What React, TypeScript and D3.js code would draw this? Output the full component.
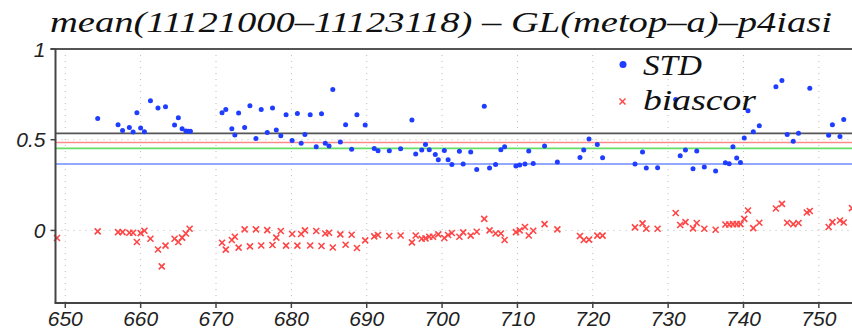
import React from "react";
import * as d3 from "d3";

const stdX = [654.3, 657.0, 657.6, 658.5, 659.0, 659.5, 660.0, 660.5, 661.3, 662.3, 663.3, 664.5, 665.0, 665.5, 666.0, 666.3, 666.6,
  670.8, 671.3, 672.1, 672.5, 673.0, 673.8, 674.5, 675.3, 676.0, 676.8, 677.5, 678.0, 678.6, 679.3, 680.1, 680.8, 681.3, 681.8, 682.5, 683.3, 684.0, 684.5, 685.0, 685.5, 686.5, 687.2, 688.0, 688.7, 689.8, 691.0, 691.5, 693.0, 694.5, 696.0, 696.5,
  697.3, 697.8, 698.3, 699.1, 699.5, 700.3, 700.8, 701.3, 702.3, 702.8, 703.8, 704.6, 705.6, 706.3, 707.1, 707.8, 708.3, 709.8, 710.3, 711.0, 711.5, 712.1, 713.6, 715.3, 718.3, 718.8, 719.5, 720.6, 721.3,
  725.6, 726.6, 727.1, 728.6, 731.0, 731.6, 732.3, 733.3, 733.8, 734.8, 736.3, 737.6, 738.1, 738.6, 739.1, 739.6, 740.1, 740.6, 741.3, 742.1, 744.3, 745.1, 745.8, 746.6, 747.3, 748.8, 751.3, 751.8, 752.8, 753.3];
const stdY = [0.617, 0.583, 0.551, 0.568, 0.542, 0.649, 0.564, 0.544, 0.715, 0.675, 0.682, 0.581, 0.621, 0.561, 0.548, 0.546, 0.546,
  0.649, 0.667, 0.561, 0.526, 0.647, 0.568, 0.687, 0.507, 0.667, 0.540, 0.675, 0.553, 0.522, 0.638, 0.496, 0.645, 0.480, 0.529, 0.638, 0.461, 0.643, 0.480, 0.465, 0.777, 0.487, 0.583, 0.447, 0.638, 0.581, 0.452, 0.439, 0.439, 0.450, 0.609, 0.421,
  0.443, 0.474, 0.445, 0.419, 0.390, 0.441, 0.390, 0.364, 0.436, 0.366, 0.432, 0.336, 0.684, 0.344, 0.364, 0.445, 0.461, 0.355, 0.360, 0.366, 0.438, 0.369, 0.465, 0.377, 0.402, 0.443, 0.504, 0.474, 0.401,
  0.366, 0.432, 0.344, 0.346, 0.722, 0.412, 0.443, 0.340, 0.438, 0.349, 0.327, 0.373, 0.368, 0.461, 0.399, 0.375, 0.509, 0.660, 0.544, 0.577, 0.792, 0.827, 0.529, 0.491, 0.535, 0.783, 0.524, 0.583, 0.518, 0.612];

const biasX = [648.9, 654.3, 657.0, 657.6, 658.5, 659.0, 659.5, 660.0, 660.5, 661.3, 662.3, 662.8, 663.3, 664.5, 665.0, 665.5, 666.0, 666.5,
  670.8, 671.3, 672.1, 672.5, 673.0, 673.8, 674.5, 675.3, 676.0, 676.8, 677.5, 678.0, 678.6, 679.3, 680.1, 680.8, 681.3, 681.8, 682.5, 683.3, 684.0, 684.5, 685.0, 685.5, 686.5, 687.2, 688.0, 688.7, 689.8, 691.0, 691.5, 693.0, 694.5, 696.0, 696.5,
  697.3, 697.8, 698.3, 698.8, 699.5, 700.3, 700.8, 701.3, 702.3, 702.8, 703.8, 704.6, 705.6, 706.3, 707.1, 707.8, 708.3, 709.8, 710.3, 711.0, 711.5, 712.1, 713.6, 715.3, 718.3, 718.8, 719.5, 720.6, 721.3,
  725.6, 726.6, 727.1, 728.6, 731.0, 731.6, 732.3, 733.3, 733.8, 734.8, 736.3, 737.6, 738.1, 738.6, 739.1, 739.6, 740.1, 740.6, 741.3, 742.1, 744.3, 745.1, 745.8, 746.6, 747.3, 748.4, 748.8, 751.3, 751.8, 752.8, 753.3, 754.4];
const biasY = [-0.042, -0.005, -0.009, -0.009, -0.013, -0.013, -0.064, -0.015, -0.002, -0.046, -0.105, -0.198, -0.084, -0.046, -0.064, -0.040, -0.017, 0.009,
  -0.068, -0.106, -0.053, -0.035, -0.095, 0.006, -0.088, 0.006, -0.083, 0.002, -0.080, -0.040, -0.003, -0.084, -0.020, -0.084, -0.020, 0.000, -0.083, -0.003, -0.086, -0.017, -0.013, -0.094, -0.022, -0.079, -0.024, -0.097, -0.055, -0.033, -0.025, -0.031, -0.028, -0.066, -0.028,
  -0.046, -0.044, -0.035, -0.035, -0.022, -0.042, -0.025, -0.014, -0.035, -0.011, -0.029, -0.007, 0.064, 0.000, -0.017, -0.017, -0.053, -0.009, 0.000, 0.019, -0.028, -0.002, 0.035, 0.006, -0.031, -0.053, -0.051, -0.029, -0.029,
  0.017, 0.039, 0.009, 0.009, 0.096, 0.030, 0.046, 0.011, 0.041, 0.009, 0.004, 0.033, 0.033, 0.035, 0.035, 0.035, 0.064, 0.110, 0.013, 0.042, 0.121, 0.146, 0.042, 0.035, 0.041, 0.099, 0.107, 0.019, 0.046, 0.055, 0.044, 0.123];

const refLevels = [0.535, 0.485, 0.452, 0.366];
const refColors = ["#555555", "#ff8a8a", "#66dd66", "#6f8cff"];
const xTicks = [650, 660, 670, 680, 690, 700, 710, 720, 730, 740, 750];
const yTicks = [0, 0.5, 1];
const yTickLabels = ["0", "0.5", "1"];
const titleText = "mean(11121000\u201311123118) \u2013 GL(metop\u2013a)\u2013p4iasi";
const legendLabels = ["STD", "biascor"];

const W = 852;
const H = 329;
const left = 55.5;
const right = 852;
const top = 49;
const bottom = 303;
const serif = "'Liberation Serif', 'Times New Roman', serif";
const sans = "'Liberation Sans', Arial, sans-serif";

export default function App() {
  const x = d3.scaleLinear().domain([648.7, 754.4]).range([left, right]);
  const y = d3.scaleLinear().domain([-0.4, 1]).range([bottom, top]);
  const blue = "#1f3dff";
  const red = "#ff4545";
  const xs = 3;
  return (
    <svg width={W} height={H} style={{ position: "absolute", left: 0, top: 0, background: "#fff" }}>
      <rect x={0} y={0} width={W} height={H} fill="#fff" />
      {xTicks.map((t) => (
        <line key={"gx" + t} x1={x(t)} x2={x(t)} y1={top} y2={bottom} stroke="#bbb" strokeWidth={1} strokeDasharray="1,5" />
      ))}
      {yTicks.map((t) => (
        <line key={"gy" + t} x1={left} x2={right} y1={y(t)} y2={y(t)} stroke="#bbb" strokeWidth={1} strokeDasharray="1,5" />
      ))}
      {refLevels.map((v, i) => (
        <line key={"r" + i} x1={left} x2={right} y1={y(v)} y2={y(v)} stroke={refColors[i]} strokeWidth={1.6} />
      ))}
      {stdX.map((v, i) => (
        <circle key={"s" + i} cx={x(v)} cy={y(stdY[i])} r={2.5} fill={blue} />
      ))}
      {biasX.map((v, i) => {
        const cx = x(v);
        const cy = y(biasY[i]);
        return (
          <g key={"b" + i} stroke={red} strokeWidth={1.6}>
            <line x1={cx - xs} y1={cy - xs} x2={cx + xs} y2={cy + xs} />
            <line x1={cx - xs} y1={cy + xs} x2={cx + xs} y2={cy - xs} />
          </g>
        );
      })}
      <line x1={left - 5} x2={right} y1={top} y2={top} stroke="#555" strokeWidth={2} />
      <line x1={left} x2={left} y1={top} y2={bottom} stroke="#444" strokeWidth={2} />
      <line x1={left - 1} x2={right} y1={bottom} y2={bottom} stroke="#444" strokeWidth={2} />
      {yTicks.map((t) => (
        <line key={"ty" + t} x1={left - 5} x2={left} y1={y(t)} y2={y(t)} stroke="#444" strokeWidth={1.5} />
      ))}
      {xTicks.map((t) => (
        <line key={"tx" + t} x1={x(t)} x2={x(t)} y1={bottom} y2={bottom + 5} stroke="#444" strokeWidth={1.5} />
      ))}
      {yTicks.map((t, i) => (
        <text key={"ly" + t} x={left - 10} y={y(t)} dy="0.36em" textAnchor="end" fontFamily={sans} fontStyle="italic" fontSize={21} fill="#222">
          {yTickLabels[i]}
        </text>
      ))}
      {xTicks.map((t) => (
        <text key={"lx" + t} x={x(t)} y={326} textAnchor="middle" fontFamily={sans} fontStyle="italic" fontSize={21} fill="#222">
          {t}
        </text>
      ))}
      <text x={441} y={32} textAnchor="middle" fontFamily={serif} fontStyle="italic" fontSize={29} fill="#111" textLength={782} lengthAdjust="spacingAndGlyphs">
        {titleText}
      </text>
      <circle cx={623} cy={64.5} r={3.5} fill={blue} />
      <g stroke={red} strokeWidth={1.5}>
        <line x1={619.5} y1={98.5} x2={625.5} y2={104.5} />
        <line x1={619.5} y1={104.5} x2={625.5} y2={98.5} />
      </g>
      <text x={643} y={75} fontFamily={serif} fontStyle="italic" fontSize={29} fill="#111" textLength={59} lengthAdjust="spacingAndGlyphs">
        {legendLabels[0]}
      </text>
      <text x={643} y={110} fontFamily={serif} fontStyle="italic" fontSize={29} fill="#111" textLength={113} lengthAdjust="spacingAndGlyphs">
        {legendLabels[1]}
      </text>
    </svg>
  );
}
